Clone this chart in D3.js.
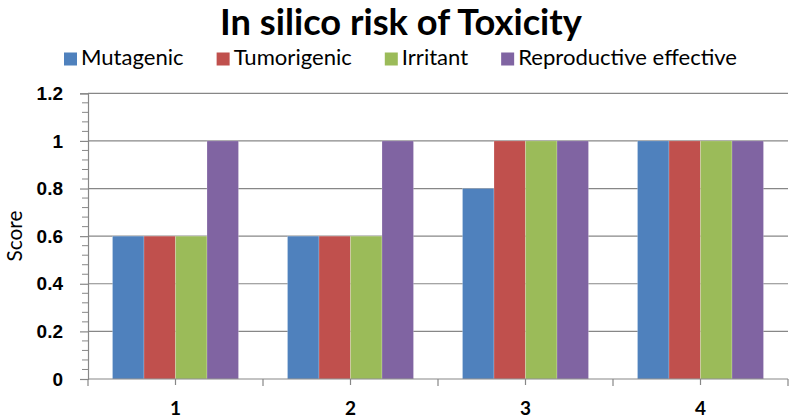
<!DOCTYPE html>
<html>
<head>
<meta charset="utf-8">
<script src="https://cdn.jsdelivr.net/npm/d3@7/dist/d3.min.js"></script>
<style>
html,body{margin:0;padding:0;background:#fff;}
svg{display:block;font-family:Lato,"Open Sans",sans-serif;}
</style>
</head>
<body>
<svg id="chart" width="795" height="420"></svg>
<script>
const categories = ["1", "2", "3", "4"];
const seriesNames = ["Mutagenic", "Tumorigenic", "Irritant", "Reproductive effective"];
const mutagenic = [0.6, 0.6, 0.8, 1.0];
const tumorigenic = [0.6, 0.6, 1.0, 1.0];
const irritant = [0.6, 0.6, 1.0, 1.0];
const reproductive = [1.0, 1.0, 1.0, 1.0];
const yTicks = [0, 0.2, 0.4, 0.6, 0.8, 1, 1.2];
const colors = ["#4F81BD", "#C0504D", "#9BBB59", "#8064A2"];
const titleText = "In silico risk of Toxicity";
const yTitle = "Score";

const seriesValues = [mutagenic, tumorigenic, irritant, reproductive];
const data = categories.map((c, i) => ({cat: c, vals: seriesNames.map((s, j) => ({name: s, value: seriesValues[j][i], color: colors[j]}))}));

const svg = d3.select("#chart");
const m = {left: 88, right: 7, top: 93.3, bottom: 41};
const W = 795, H = 420;
const x0 = d3.scaleBand().domain(categories).range([m.left, W - m.right]).paddingInner(0.28).paddingOuter(0.14);
const x1 = d3.scaleBand().domain(seriesNames).range([0, x0.bandwidth()]).padding(0);
const y = d3.scaleLinear().domain([0, 1.2]).range([H - m.bottom, m.top]);
const gridColor = "#878787";

function fit(sel, width) {
  sel.style("font-size", "100px");
  const w = sel.node().getComputedTextLength();
  sel.style("font-size", (100 * width / w) + "px");
}

// gridlines
svg.append("g").selectAll("line").data(yTicks.filter(t => t > 0)).join("line")
  .attr("x1", m.left).attr("x2", W - m.right)
  .attr("y1", d => y(d)).attr("y2", d => y(d))
  .attr("stroke", gridColor).attr("stroke-width", 1.2);

// bars
const groups = svg.append("g").selectAll("g").data(data).join("g")
  .attr("transform", d => `translate(${x0(d.cat)},0)`);
groups.selectAll("rect").data(d => d.vals).join("rect")
  .attr("x", d => x1(d.name)).attr("width", x1.bandwidth())
  .attr("y", d => y(d.value)).attr("height", d => y(0) - y(d.value))
  .attr("fill", d => d.color)
  .attr("stroke", "rgba(255,255,255,0.35)").attr("stroke-width", 0.6);

// y axis
const yAxis = d3.axisLeft(y).tickValues(yTicks).tickFormat(d => d3.format("")(+d.toFixed(1))).tickSize(8).tickPadding(17);
const ya = svg.append("g").attr("transform", `translate(${m.left},0)`).call(yAxis);
ya.select(".domain").attr("stroke", gridColor).attr("stroke-width", 1.2);
ya.selectAll(".tick line").attr("stroke", gridColor).attr("stroke-width", 1.2);
ya.selectAll("text").style("font-size", "19px").style("font-weight", "bold").attr("fill", "#000");
// y minor ticks
const minor = d3.range(0, 1.2001, 0.04).filter(v => Math.abs(v / 0.2 - Math.round(v / 0.2)) > 0.01);
svg.append("g").selectAll("line").data(minor).join("line")
  .attr("x1", m.left - 6).attr("x2", m.left)
  .attr("y1", d => y(d)).attr("y2", d => y(d))
  .attr("stroke", gridColor).attr("stroke-width", 1);

// x axis
const xa = svg.append("g").attr("transform", `translate(0,${y(0)})`);
xa.append("line").attr("x1", m.left).attr("x2", W - m.right).attr("stroke", gridColor).attr("stroke-width", 1.2);
const bounds = categories.map(c => x0(c) - x0.step() * x0.paddingInner() / 2).concat([W - m.right]);
xa.selectAll("line.b").data(bounds).join("line").attr("class", "b")
  .attr("x1", d => d).attr("x2", d => d).attr("y1", 0).attr("y2", 7)
  .attr("stroke", gridColor).attr("stroke-width", 1.2);
xa.selectAll("line.c").data(categories).join("line").attr("class", "c")
  .attr("x1", d => x0(d) + x0.bandwidth() / 2).attr("x2", d => x0(d) + x0.bandwidth() / 2)
  .attr("y1", 0).attr("y2", 6)
  .attr("stroke", gridColor).attr("stroke-width", 1.2);
xa.selectAll("text").data(categories).join("text")
  .attr("x", d => x0(d) + x0.bandwidth() / 2).attr("y", 36)
  .attr("text-anchor", "middle").style("font-size", "19px").style("font-weight", "bold").text(d => d);

// y title
const yt = svg.append("text").attr("transform", `translate(22,236) rotate(-90)`)
  .attr("text-anchor", "middle").text(yTitle);
fit(yt, 51);

// title
const t = svg.append("text").attr("x", 401).attr("y", 35).attr("text-anchor", "middle")
  .style("font-weight", "bold").text(titleText);
fit(t, 362);

// legend
const leg = svg.append("g");
const items = leg.selectAll("g").data(seriesNames).join("g");
items.append("rect").attr("width", 13).attr("height", 13).attr("y", 52.5).attr("fill", (d, i) => colors[i]);
const lt = items.append("text").attr("x", 17).attr("y", 65).text(d => d);
lt.style("font-size", "100px");
const lastW = lt.nodes()[3].getComputedTextLength();
const fs = 100 * 219 / lastW;
lt.style("font-size", fs + "px");
let cx = 64;
items.each(function(d, i) {
  d3.select(this).attr("transform", `translate(${cx},0)`);
  cx += 17 + lt.nodes()[i].getComputedTextLength() + 33;
});
</script>
</body>
</html>
